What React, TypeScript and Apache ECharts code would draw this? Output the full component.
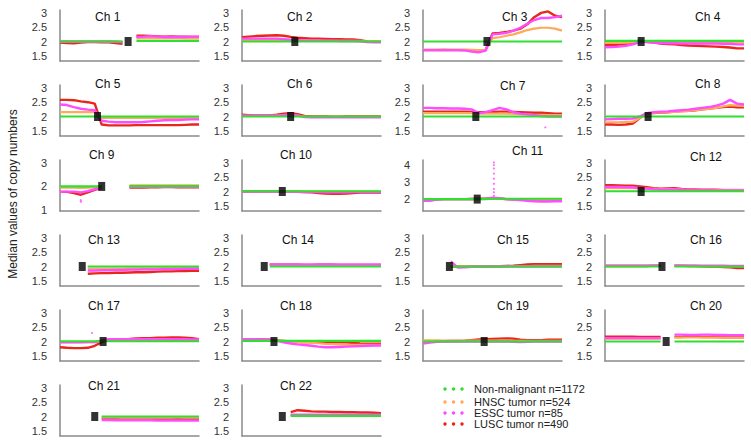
import React, { useEffect, useRef } from "react";
import * as echarts from "echarts";

const N = null;

// relative position along each chromosome (%)
const POS = [0, 5, 10, 15, 20, 25, 30, 35, 40, 45, 50, 55, 60, 65, 70, 75, 80, 85, 90, 95, 100];

const CHROMS = ["Ch 1","Ch 2","Ch 3","Ch 4","Ch 5","Ch 6","Ch 7","Ch 8","Ch 9","Ch 10","Ch 11","Ch 12","Ch 13","Ch 14","Ch 15","Ch 16","Ch 17","Ch 18","Ch 19","Ch 20","Ch 21","Ch 22"];

// centromere position (%)
const CENTRO = [49, 38, 46, 26, 27, 35, 38, 31, 30, 29, 39, 26, 16, 16, 19, 41, 31, 23, 44, 44, 25, 29];

const SERIES_NAMES = ["Non-malignant n=1172", "HNSC tumor n=524", "ESSC tumor n=85", "LUSC tumor n=490"];

const LUSC: (number | null)[][] = [
  [1.96,1.95,1.94,1.96,1.98,1.98,1.97,1.97,1.95,1.92,N,2.2,2.2,2.19,2.18,2.17,2.18,2.17,2.17,2.16,2.16],
  [2.15,2.17,2.19,2.2,2.21,2.22,2.2,2.16,2.13,2.12,2.1,2.1,2.09,2.08,2.08,2.07,2.07,2.05,2.0,1.99,1.99],
  [1.7,1.7,1.7,1.71,1.7,1.7,1.7,1.69,1.69,1.7,2.28,2.3,2.33,2.38,2.45,2.6,2.85,3.0,3.05,2.9,2.85],
  [1.88,1.88,1.89,1.92,1.96,2.0,1.99,1.96,1.93,1.91,1.9,1.88,1.86,1.85,1.84,1.83,1.82,1.81,1.79,1.76,1.76],
  [2.58,2.58,2.57,2.53,2.5,2.45,1.72,1.69,1.69,1.69,1.69,1.7,1.7,1.7,1.7,1.7,1.7,1.7,1.71,1.72,1.72],
  [2.06,2.05,2.04,2.04,2.04,2.06,2.1,2.12,2.08,2.02,2.0,2.0,2.0,1.99,1.99,2.0,2.0,2.0,2.0,2.0,2.0],
  [2.17,2.17,2.17,2.17,2.17,2.17,2.17,2.16,2.15,2.15,2.16,2.17,2.17,2.16,2.15,2.14,2.13,2.13,2.12,2.1,2.1],
  [1.72,1.72,1.71,1.72,1.75,1.95,2.1,2.12,2.14,2.15,2.17,2.19,2.2,2.22,2.25,2.28,2.3,2.33,2.35,2.32,2.32],
  [1.77,1.77,1.72,1.65,1.75,1.85,1.95,N,N,N,1.95,1.95,1.95,1.96,1.96,1.97,1.97,1.96,1.96,1.96,1.96],
  [2.0,2.0,2.0,2.0,2.0,2.0,1.99,1.99,1.99,1.98,1.97,1.95,1.93,1.92,1.92,1.93,1.95,1.96,1.96,1.96,1.96],
  [1.95,1.97,1.99,2.0,2.0,2.0,2.0,2.01,2.02,2.03,2.05,2.03,2.0,1.99,1.98,1.97,1.95,1.94,1.93,1.93,1.93],
  [2.22,2.22,2.21,2.2,2.2,2.18,2.15,2.12,2.1,2.11,2.12,2.09,2.07,2.07,2.06,2.06,2.06,2.05,2.05,2.05,2.05],
  [N,N,N,N,1.75,1.76,1.77,1.77,1.78,1.78,1.79,1.8,1.8,1.81,1.82,1.83,1.83,1.84,1.84,1.85,1.85],
  [N,N,N,N,2.06,2.06,2.06,2.06,2.06,2.05,2.05,2.06,2.06,2.06,2.05,2.05,2.05,2.05,2.05,2.05,2.05],
  [N,N,N,N,2.0,2.0,2.0,2.0,2.0,2.0,2.01,2.01,2.02,2.03,2.05,2.07,2.08,2.08,2.08,2.08,2.08],
  [2.02,2.02,2.02,2.02,2.02,2.02,2.02,2.03,2.03,N,2.03,2.03,2.02,2.02,2.01,2.0,2.0,1.98,1.97,1.95,1.95],
  [1.8,1.78,1.77,1.77,1.78,1.85,1.98,2.07,2.07,2.08,2.09,2.11,2.12,2.12,2.13,2.13,2.14,2.14,2.13,2.12,2.08],
  [2.07,2.07,2.07,2.07,2.06,2.04,2.02,2.0,2.0,1.99,1.99,1.98,1.98,1.98,1.97,1.97,1.95,1.93,1.92,1.92,1.92],
  [2.0,2.0,2.01,2.01,2.02,2.02,2.03,2.05,2.07,2.08,2.09,2.1,2.11,2.1,2.06,2.05,2.05,2.05,2.06,2.06,2.06],
  [2.17,2.17,2.17,2.17,2.17,2.16,2.16,2.16,2.16,N,2.16,2.16,2.17,2.17,2.16,2.16,2.16,2.15,2.15,2.15,2.15],
  [N,N,N,N,N,N,1.93,1.92,1.91,1.9,1.9,1.9,1.9,1.9,1.9,1.9,1.9,1.91,1.9,1.9,1.9],
  [N,N,N,N,N,N,N,2.15,2.22,2.2,2.18,2.17,2.17,2.16,2.16,2.15,2.15,2.14,2.14,2.13,2.12],
];

const HNSC: (number | null)[][] = [
  [2.0,2.0,2.0,2.0,2.0,2.0,2.0,2.0,2.0,1.99,N,2.12,2.12,2.12,2.12,2.12,2.12,2.12,2.11,2.11,2.11],
  [2.06,2.06,2.06,2.06,2.06,2.06,2.05,2.04,2.03,2.03,2.03,2.03,2.02,2.02,2.02,2.02,2.02,2.02,2.0,2.0,2.0],
  [1.72,1.72,1.72,1.72,1.72,1.72,1.72,1.71,1.7,1.71,2.12,2.15,2.2,2.25,2.32,2.4,2.45,2.48,2.48,2.45,2.38],
  [1.95,1.95,1.95,1.96,1.97,2.0,1.99,1.98,1.98,1.98,1.98,1.98,1.97,1.97,1.97,1.97,1.97,1.97,1.97,1.97,1.97],
  [2.15,2.15,2.15,2.15,2.15,2.15,1.95,1.95,1.95,1.95,1.95,1.95,1.95,1.95,1.95,1.95,1.95,1.95,1.95,1.95,1.95],
  [2.02,2.02,2.02,2.02,2.02,2.03,2.04,2.05,2.03,2.0,1.99,1.99,1.99,1.99,1.99,1.99,1.99,1.99,1.99,1.99,1.99],
  [2.12,2.12,2.12,2.12,2.12,2.12,2.12,2.12,2.1,2.1,2.1,2.1,2.1,2.09,2.08,2.07,2.06,2.06,2.05,2.05,2.05],
  [1.8,1.8,1.8,1.81,1.82,1.95,2.1,2.13,2.14,2.15,2.16,2.18,2.2,2.22,2.25,2.27,2.3,2.35,2.4,2.38,2.36],
  [1.95,1.95,1.95,1.94,1.95,1.96,1.98,N,N,N,2.05,2.05,2.05,2.05,2.05,2.05,2.05,2.05,2.05,2.05,2.05],
  [2.0,2.0,2.0,2.0,2.0,2.0,2.0,2.0,2.0,2.0,2.0,2.0,2.0,2.0,2.0,2.0,2.0,2.0,2.0,2.0,2.0],
  [2.0,2.0,2.0,2.0,2.0,2.0,2.0,2.0,2.01,2.01,2.02,2.01,2.0,1.99,1.98,1.97,1.97,1.97,1.97,1.97,1.97],
  [2.12,2.12,2.12,2.12,2.12,2.11,2.1,2.09,2.08,2.08,2.08,2.07,2.06,2.06,2.06,2.06,2.06,2.06,2.06,2.06,2.06],
  [N,N,N,N,1.93,1.93,1.93,1.93,1.93,1.93,1.94,1.94,1.94,1.94,1.94,1.95,1.95,1.95,1.95,1.95,1.95],
  [N,N,N,N,2.05,2.05,2.05,2.05,2.05,2.05,2.05,2.05,2.05,2.05,2.05,2.05,2.05,2.05,2.05,2.05,2.05],
  [N,N,N,N,2.01,2.01,2.01,2.01,2.01,2.01,2.01,2.01,2.01,2.01,2.01,2.01,2.02,2.02,2.02,2.02,2.02],
  [2.02,2.02,2.02,2.02,2.02,2.02,2.02,2.02,2.02,N,2.02,2.02,2.02,2.02,2.01,2.01,2.01,2.0,2.0,2.0,2.0],
  [1.98,1.98,1.98,1.98,1.98,1.98,2.02,2.05,2.05,2.05,2.05,2.05,2.05,2.05,2.05,2.05,2.05,2.05,2.05,2.05,2.05],
  [2.05,2.05,2.05,2.05,2.05,2.03,2.0,1.98,1.97,1.96,1.95,1.94,1.92,1.91,1.9,1.89,1.88,1.88,1.88,1.88,1.88],
  [2.04,2.04,2.04,2.03,2.03,2.03,2.03,2.03,2.03,2.03,2.03,2.03,2.03,2.02,2.02,2.02,2.02,2.02,2.02,2.02,2.02],
  [2.1,2.1,2.1,2.1,2.1,2.1,2.1,2.1,2.1,N,2.14,2.14,2.14,2.14,2.14,2.14,2.14,2.14,2.14,2.14,2.14],
  [N,N,N,N,N,N,1.97,1.97,1.97,1.97,1.97,1.97,1.97,1.97,1.97,1.97,1.97,1.97,1.97,1.97,1.97],
  [N,N,N,N,N,N,N,2.05,2.05,2.05,2.05,2.05,2.05,2.05,2.05,2.05,2.05,2.05,2.05,2.05,2.05],
];

const ESSC: (number | null)[][] = [
  [2.0,2.0,2.0,2.0,2.0,2.0,2.0,2.0,1.99,1.98,N,2.16,2.17,2.19,2.17,2.16,2.16,2.16,2.16,2.17,2.17],
  [2.1,2.1,2.1,2.1,2.1,2.1,2.08,2.06,2.05,2.04,2.04,2.03,2.03,2.03,2.02,2.02,2.02,2.01,1.98,1.97,1.97],
  [1.7,1.7,1.7,1.7,1.7,1.7,1.69,1.65,1.62,1.68,2.25,2.27,2.3,2.38,2.48,2.62,2.75,2.82,2.82,2.85,2.9],
  [1.8,1.81,1.82,1.85,1.9,1.98,1.98,1.96,1.95,1.94,1.94,1.93,1.93,1.93,1.93,1.93,1.93,1.92,1.92,1.9,1.9],
  [2.42,2.4,2.33,2.27,2.24,2.22,1.85,1.82,1.8,1.8,1.8,1.8,1.81,1.83,1.85,1.87,1.88,1.88,1.89,1.9,1.9],
  [2.03,2.03,2.03,2.03,2.03,2.03,2.05,2.08,2.03,1.98,1.97,1.97,1.97,1.97,1.97,1.97,1.97,1.97,1.97,1.97,1.97],
  [2.3,2.3,2.29,2.29,2.28,2.28,2.27,2.25,2.12,2.15,2.22,2.3,2.25,2.15,2.1,2.08,2.05,2.02,2.0,2.0,2.0],
  [1.9,1.91,1.92,1.92,1.93,2.0,2.12,2.15,2.17,2.18,2.2,2.22,2.24,2.27,2.3,2.33,2.38,2.45,2.58,2.45,2.42],
  [1.77,1.78,1.78,1.75,1.8,1.88,1.97,N,N,N,1.98,1.98,1.98,1.98,1.98,1.98,1.98,1.98,1.98,1.98,1.98],
  [2.0,2.0,2.0,2.0,2.0,2.0,1.99,1.99,1.99,1.98,1.98,1.98,1.97,1.97,1.97,1.97,1.98,1.98,1.98,1.98,1.98],
  [1.9,1.9,1.97,2.0,2.0,2.0,2.0,2.01,2.01,2.02,2.08,2.05,2.0,1.98,1.95,1.9,1.87,1.86,1.86,1.87,1.87],
  [2.16,2.16,2.16,2.15,2.15,2.12,2.1,2.08,2.07,2.07,2.07,2.06,2.05,2.05,2.05,2.05,2.04,2.04,2.04,2.04,2.04],
  [N,N,N,N,1.86,1.86,1.87,1.87,1.88,1.88,1.89,1.89,1.9,1.9,1.9,1.91,1.91,1.91,1.92,1.92,1.92],
  [N,N,N,N,2.07,2.07,2.07,2.07,2.07,2.07,2.07,2.07,2.07,2.07,2.07,2.07,2.07,2.07,2.07,2.07,2.07],
  [N,N,N,N,2.18,1.96,1.97,1.99,2.0,2.0,2.0,2.0,2.0,2.0,2.0,2.0,2.0,2.0,2.0,2.0,2.0],
  [2.03,2.03,2.03,2.03,2.03,2.03,2.03,2.03,2.03,N,2.03,2.03,2.03,2.03,2.03,2.03,2.03,2.03,2.02,2.02,2.02],
  [1.97,1.97,1.97,1.97,1.98,1.98,2.04,2.08,2.08,2.08,2.08,2.08,2.08,2.08,2.08,2.08,2.08,2.08,2.08,2.07,2.07],
  [2.08,2.08,2.08,2.07,2.06,2.02,1.97,1.93,1.9,1.88,1.85,1.82,1.8,1.8,1.81,1.82,1.83,1.84,1.85,1.86,1.86],
  [1.93,1.96,1.99,2.0,2.0,2.0,2.0,2.0,2.0,2.0,2.0,2.0,2.0,1.99,1.98,1.99,2.0,2.0,2.0,2.0,2.0],
  [2.12,2.12,2.12,2.12,2.12,2.12,2.12,2.12,2.12,N,2.24,2.24,2.23,2.23,2.24,2.24,2.23,2.23,2.22,2.22,2.22],
  [N,N,N,N,N,N,1.88,1.88,1.87,1.87,1.87,1.87,1.87,1.87,1.86,1.86,1.86,1.86,1.86,1.86,1.86],
  [N,N,N,N,N,N,N,2.06,2.06,2.06,2.06,2.06,2.06,2.06,2.06,2.06,2.06,2.06,2.06,2.06,2.06],
];

const NONMAL: (number | null)[][] = [
  [2.0,2.0,2.0,2.0,2.0,2.0,2.0,2.0,2.0,2.0,N,2.02,2.02,2.02,2.02,2.02,2.02,2.02,2.02,2.02,2.02],
  [2.0,2.0,2.0,2.0,2.0,2.0,2.0,2.0,2.0,2.0,2.0,2.0,2.0,2.0,2.0,2.0,2.0,2.0,2.0,2.0,2.0],
  [2.0,2.0,2.0,2.0,2.0,2.0,2.0,2.0,2.0,2.0,2.0,2.0,2.0,2.0,2.0,2.0,2.0,2.0,2.0,2.0,2.0],
  [2.02,2.02,2.02,2.02,2.02,2.02,2.02,2.02,2.02,2.02,2.02,2.02,2.02,2.02,2.02,2.02,2.02,2.02,2.02,2.02,2.02],
  [2.0,2.0,2.0,2.0,2.0,2.0,2.0,2.0,2.0,2.0,2.0,2.0,2.0,2.0,2.0,2.0,2.0,2.0,2.0,2.0,2.0],
  [2.0,2.0,2.0,2.0,2.0,2.0,2.0,2.0,2.0,2.0,2.0,2.0,2.0,2.0,2.0,2.0,2.0,2.0,2.0,2.0,2.0],
  [2.0,2.0,2.0,2.0,2.0,2.0,2.0,2.0,2.0,2.0,2.0,2.0,2.0,2.0,2.0,2.0,2.0,2.0,2.0,2.0,2.0],
  [2.0,2.0,2.0,2.0,2.0,2.0,2.0,2.0,2.0,2.0,2.0,2.0,2.0,2.0,2.0,2.0,2.0,2.0,2.0,2.0,2.0],
  [2.0,2.0,2.0,2.0,2.0,2.0,2.0,N,N,N,2.01,2.01,2.01,2.01,2.01,2.01,2.01,2.01,2.01,2.01,2.01],
  [2.01,2.01,2.01,2.01,2.01,2.01,2.01,2.01,2.01,2.01,2.01,2.01,2.01,2.01,2.01,2.01,2.01,2.01,2.01,2.01,2.01],
  [2.0,2.0,2.0,2.0,2.0,2.0,2.0,2.0,2.0,2.0,2.02,2.02,2.02,2.02,2.02,2.02,2.02,2.02,2.02,2.02,2.02],
  [2.01,2.01,2.01,2.01,2.01,2.01,2.01,2.01,2.01,2.01,2.01,2.01,2.01,2.01,2.01,2.01,2.01,2.01,2.01,2.01,2.01],
  [N,N,N,N,2.0,2.0,2.0,2.0,2.0,2.0,2.0,2.0,2.0,2.0,2.0,2.0,2.0,2.0,2.0,2.0,2.0],
  [N,N,N,N,2.0,2.0,2.0,2.0,2.0,2.0,2.0,2.0,2.0,2.0,2.0,2.0,2.0,2.0,2.0,2.0,2.0],
  [N,N,N,N,2.0,2.0,2.0,2.0,2.0,2.0,2.0,2.0,2.0,2.0,2.0,2.0,2.0,2.0,2.0,2.0,2.0],
  [2.0,2.0,2.0,2.0,2.0,2.0,2.0,2.0,2.0,N,2.0,2.0,2.0,2.0,2.0,2.0,2.0,2.0,2.0,2.0,2.0],
  [2.01,2.01,2.01,2.01,2.01,2.01,2.01,2.01,2.01,2.01,2.01,2.01,2.01,2.01,2.01,2.01,2.01,2.01,2.01,2.01,2.01],
  [2.02,2.02,2.02,2.02,2.02,2.02,2.02,2.02,2.02,2.02,2.02,2.02,2.02,2.02,2.02,2.02,2.02,2.02,2.02,2.02,2.02],
  [2.0,2.0,2.0,2.0,2.0,2.0,2.0,2.0,2.0,2.0,2.0,2.0,2.0,2.0,2.0,2.0,2.0,2.0,2.0,2.0,2.0],
  [2.0,2.0,2.0,2.0,2.0,2.0,2.0,2.0,2.0,N,2.0,2.0,2.0,2.0,2.0,2.0,2.0,2.0,2.0,2.0,2.0],
  [N,N,N,N,N,N,2.0,2.0,2.0,2.0,2.0,2.0,2.0,2.0,2.0,2.0,2.0,2.0,2.0,2.0,2.0],
  [N,N,N,N,N,N,N,2.02,2.02,2.02,2.02,2.02,2.02,2.02,2.02,2.02,2.02,2.02,2.02,2.02,2.02],
];

// isolated ESSC points: [chromosome index, position %, value]
const ESSC_OUTLIERS: [number, number, number][] = [
  [6, 88, 1.62],
  [8, 15, 1.35], [8, 15, 1.42],
  [10, 51, 2.2], [10, 51, 2.4], [10, 51, 2.6], [10, 51, 2.9], [10, 51, 3.2],
  [10, 51, 3.5], [10, 51, 3.8], [10, 51, 4.0], [10, 51, 4.15],
  [16, 23, 2.3],
];

// y tick labels and ranges
const TICKS_DEFAULT = [1.5, 2, 2.5, 3];
const TICKS_CH9 = [1, 2, 3];
const TICKS_CH11 = [2, 3, 4];
const RANGE_DEFAULT = [1.32, 3.1];
const RANGE_CH9 = [0.96, 3.12];
const RANGE_CH11 = [1.3, 4.3];

// layout
const COL_X = [60, 242, 423, 605];
const PANEL_W = 139;
const PANEL_H = 51;
const TITLE_X = [95, 287, 502, 695, 95, 287, 500, 695, 89, 280, 512, 690, 88, 282, 497, 690, 88, 280, 497, 690, 88, 280];
const TITLE_Y = [17, 17, 17, 17, 84, 84, 86, 84, 155, 155, 151, 157, 240, 240, 240, 240, 306, 306, 306, 306, 386, 386];
const LEGEND_Y = [389, 402, 413, 424];

const COLORS = { nonmal: "#2fe02f", hnsc: "#ffa95a", essc: "#ff4cff", lusc: "#e8261c" };
const FONT = "'Liberation Sans', Arial, Helvetica, sans-serif";

export default function App() {
  const ref = useRef<HTMLDivElement>(null);
  useEffect(() => {
    if (!ref.current) return;
    const chart = echarts.init(ref.current, undefined, { renderer: "svg" });
    const grids: any[] = [];
    const xAxes: any[] = [];
    const yAxes: any[] = [];
    const series: any[] = [];
    const graphics: any[] = [];

    const toData = (vals: (number | null)[]) => POS.map((x, k) => [x, vals[k] == null ? "-" : vals[k]]);

    CHROMS.forEach((name, i) => {
      const row = Math.floor(i / 4);
      const col = i % 4;
      grids.push({ left: COL_X[col], top: 10 + 75 * row, width: PANEL_W, height: PANEL_H, containLabel: false });
      const ticks = i === 8 ? TICKS_CH9 : i === 10 ? TICKS_CH11 : TICKS_DEFAULT;
      const range = i === 8 ? RANGE_CH9 : i === 10 ? RANGE_CH11 : RANGE_DEFAULT;
      xAxes.push({
        gridIndex: i, type: "value", min: 0, max: 100,
        axisLine: { show: true, onZero: false, lineStyle: { color: "#8a8a8a", width: 1.5 } },
        axisTick: { show: false }, axisLabel: { show: false }, splitLine: { show: false },
      });
      yAxes.push({
        gridIndex: i, type: "value", min: range[0], max: range[1],
        axisLine: { show: true, onZero: false, lineStyle: { color: "#8a8a8a", width: 1.5 } },
        axisTick: { show: false },
        splitLine: { show: false },
        axisLabel: {
          customValues: ticks, fontSize: 11, color: "#333", fontFamily: FONT, margin: 13,
          showMinLabel: true, showMaxLabel: true,
        },
      });
      const groups: [string, (number | null)[][], string, number][] = [
        [SERIES_NAMES[3], LUSC, COLORS.lusc, 2.4],
        [SERIES_NAMES[1], HNSC, COLORS.hnsc, 2.2],
        [SERIES_NAMES[2], ESSC, COLORS.essc, 2.4],
        [SERIES_NAMES[0], NONMAL, COLORS.nonmal, 2.2],
      ];
      groups.forEach(([sname, arr, color, w], gi) => {
        series.push({
          name: sname, type: "line", xAxisIndex: i, yAxisIndex: i,
          data: toData(arr[i]), symbol: "none", connectNulls: false,
          lineStyle: { color, width: w }, itemStyle: { color }, z: 2 + gi, silent: true,
        });
      });
      const outs = ESSC_OUTLIERS.filter((o) => o[0] === i).map((o) => [o[1], o[2]]);
      if (outs.length) {
        series.push({
          type: "scatter", xAxisIndex: i, yAxisIndex: i, data: outs, symbol: "circle",
          symbolSize: 2.2, itemStyle: { color: COLORS.essc }, z: 6, silent: true,
        });
      }
      series.push({
        type: "scatter", xAxisIndex: i, yAxisIndex: i, data: [[CENTRO[i], 2]],
        symbol: "rect", symbolSize: [7, 9], itemStyle: { color: "#000" }, z: 10, silent: true,
      });
      graphics.push({
        type: "text", x: TITLE_X[i], y: TITLE_Y[i],
        style: { text: name, fontSize: 12, fontFamily: FONT, fill: "#111", verticalAlign: "middle", align: "left" },
      });
    });

    // y axis title
    graphics.push({
      type: "text", x: 13, y: 194, rotation: Math.PI / 2,
      style: { text: "Median values of copy numbers", fontSize: 12, fontFamily: FONT, fill: "#222", align: "center", verticalAlign: "middle" },
    });

    // legend
    const legendColors = [COLORS.nonmal, COLORS.hnsc, COLORS.essc, COLORS.lusc];
    SERIES_NAMES.forEach((label, li) => {
      const y = LEGEND_Y[li];
      [445, 453.5, 462].forEach((cx) => {
        graphics.push({ type: "circle", shape: { cx, cy: y, r: 1.7 }, style: { fill: legendColors[li] } });
      });
      graphics.push({
        type: "text", x: 474, y,
        style: { text: label, fontSize: 11, fontFamily: FONT, fill: "#222", verticalAlign: "middle", align: "left" },
      });
    });

    chart.setOption({
      animation: false,
      backgroundColor: "#fff",
      grid: grids,
      xAxis: xAxes,
      yAxis: yAxes,
      series,
      graphic: graphics,
    });
    return () => chart.dispose();
  }, []);
  return <div ref={ref} style={{ position: "fixed", left: 0, top: 0, width: 751, height: 443 }} />;
}
